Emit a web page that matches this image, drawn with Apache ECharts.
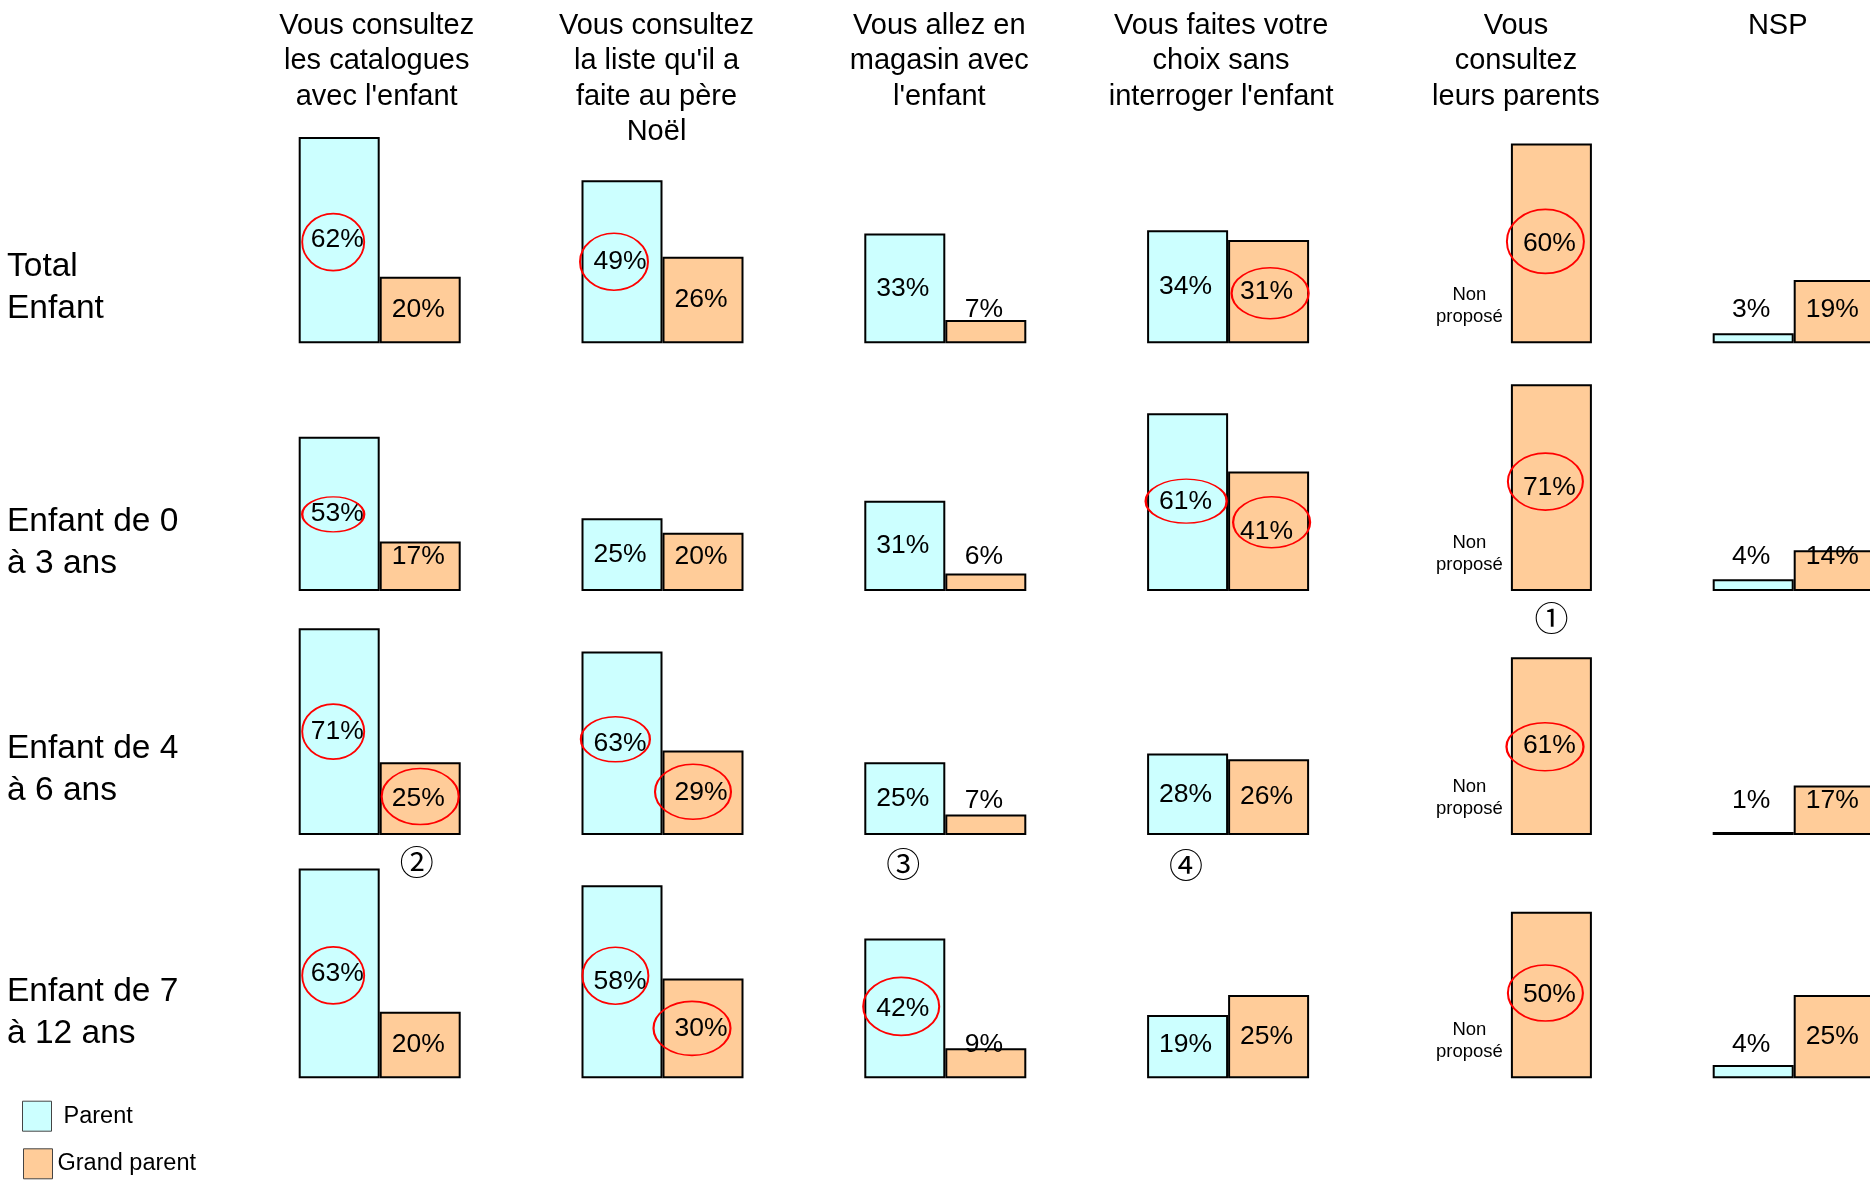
<!DOCTYPE html>
<html><head><meta charset="utf-8">
<script src="https://cdn.jsdelivr.net/npm/echarts@6/dist/echarts.min.js"></script>
<style>html,body{margin:0;padding:0;background:#fff}#c{width:1870px;height:1183px}</style>
</head><body><div id="c"></div>
<script>
// ---------- data ----------
const columnTitles = [
  "Vous consultez\nles catalogues\navec l'enfant",
  "Vous consultez\nla liste qu'il a\nfaite au père\nNoël",
  "Vous allez en\nmagasin avec\nl'enfant",
  "Vous faites votre\nchoix sans\ninterroger l'enfant",
  "Vous\nconsultez\nleurs parents",
  "NSP"
];
const rowLabels = ["Total\nEnfant", "Enfant de 0\nà 3 ans", "Enfant de 4\nà 6 ans", "Enfant de 7\nà 12 ans"];
const seriesNames = ["Parent", "Grand parent"];
const parentTotal  = [62, 49, 33, 34, null, 3];
const grandTotal   = [20, 26, 7, 31, 60, 19];
const parent0to3   = [53, 25, 31, 61, null, 4];
const grand0to3    = [17, 20, 6, 41, 71, 14];
const parent4to6   = [71, 63, 25, 28, null, 1];
const grand4to6    = [25, 29, 7, 26, 61, 17];
const parent7to12  = [63, 58, 42, 19, null, 4];
const grand7to12   = [20, 30, 9, 25, 50, 25];
const notProposedText = "Non\nproposé";
// highlighted values (red ellipses): row, column, series index
const highlighted = [
  [0,0,0],[0,1,0],[0,3,1],[0,4,1],
  [1,0,0],[1,3,0],[1,3,1],[1,4,1],
  [2,0,0],[2,0,1],[2,1,0],[2,1,1],[2,4,1],
  [3,0,0],[3,1,0],[3,1,1],[3,2,0],[3,4,1]
];
// footnote marks: row, column, series index, text
const footnotes = [[1,4,1,"①"],[2,0,1,"②"],[2,2,0,"③"],[2,3,0,"④"]];

// ---------- layout / style (kept separate from data) ----------
const FONT = '"Liberation Sans", Arial, sans-serif';
const colors = ["#CCFFFF", "#FFCC99"];
const gridLeft = 238.3, catW = 282.8, gridH = 233, barW = 81;
const baselines = [343.3, 591, 835, 1078.3];
const labelMinPx = 34;
const titleShift = [-3, -6, -6, -7, 5, -16];
const rowLabelTops = [246, 501, 727.5, 971];
// ellipse sizes and offsets, same order as `highlighted`: [w, h, dx, dy]
const ellipseGeom = [
  [62,57,-6,2],[68,57,-8,0],[77,51,1.5,1.5],[77,64,-6,-2],
  [62,35,-6,0.5],[81,44,-1.4,-1],[77,51,3,-9],[75,57,-6,-6],
  [62,55,-6,0],[77,56,0,-2],[69,45,-6.6,-4],[76,55,-10,-1],[77,48,-6.4,0.5],
  [62,57,-6,2],[66,57,-6.6,-6],[77,54,-11,0],[76,58,-3.6,-2],[75,56,-6,-2]
];
const footnoteOffset = [[0,27],[-3.5,27],[-1.5,29],[-1.5,30]];

const rowParents = [parentTotal, parent0to3, parent4to6, parent7to12];
const rowGrands  = [grandTotal, grand0to3, grand4to6, grand7to12];

const grids = [], xAxes = [], yAxes = [], series = [], graphics = [];

columnTitles.forEach((t, i) => {
  graphics.push({type:'text', x: gridLeft + (i + 0.5) * catW + titleShift[i], y: 8.5,
    style:{text:t, fill:'#000', fontSize:29, fontFamily:FONT, lineHeight:35.3,
      align:'center', textAlign:'center', verticalAlign:'top', textVerticalAlign:'top'}});
});
rowLabels.forEach((t, r) => {
  graphics.push({type:'text', x: 7, y: rowLabelTops[r],
    style:{text:t, fill:'#000', fontSize:33.5, fontFamily:FONT, lineHeight:42,
      align:'left', textAlign:'left', verticalAlign:'top', textVerticalAlign:'top'}});
});

for (let r = 0; r < 4; r++) {
  const rowVals = rowParents[r].concat(rowGrands[r]).filter(v => v != null);
  const rowMax = Math.ceil(Math.max.apply(null, rowVals) / 10) * 10;
  const scale = gridH / rowMax;
  grids.push({left: gridLeft, top: baselines[r] - gridH, width: catW * 6, height: gridH,
    outerBoundsMode: 'none', containLabel: false});
  xAxes.push({gridIndex: r, type: 'category', data: columnTitles, show: false});
  yAxes.push({gridIndex: r, type: 'value', min: 0, max: rowMax, show: false});

  [rowParents[r], rowGrands[r]].forEach((vals, s) => {
    const labelCenterPx = v => Math.max(v * scale / 2, labelMinPx);
    const data = vals.map(v => {
      if (v == null) return '-';
      const h = v * scale;
      return {value: v, label: {position: ['50%', h - labelCenterPx(v)]}};
    });
    const mp = [];
    highlighted.forEach((hl, k) => {
      if (hl[0] !== r || hl[2] !== s) return;
      const v = vals[hl[1]];
      const g = ellipseGeom[k];
      mp.push({coord: [columnTitles[hl[1]], labelCenterPx(v) / scale],
        symbol: 'circle', symbolSize: [g[0], g[1]], symbolOffset: [g[2], g[3]],
        itemStyle: {color: 'rgba(0,0,0,0)', borderColor: '#FF0000', borderWidth: 1.8},
        label: {show: false}});
    });
    footnotes.forEach((fn, k) => {
      if (fn[0] !== r || fn[2] !== s) return;
      mp.push({coord: [columnTitles[fn[1]], 0], symbol: 'circle', symbolSize: 1,
        itemStyle: {color: 'rgba(0,0,0,0)'},
        label: {show: true, formatter: fn[3], position: 'inside', offset: footnoteOffset[k],
          fontSize: 34, fontFamily: '"Noto Sans CJK JP", "DejaVu Sans"', color: '#000'}});
    });
    if (s === 0) {
      vals.forEach((v, i) => {
        if (v != null) return;
        mp.push({coord: [columnTitles[i], 0], symbol: 'circle', symbolSize: 1,
          itemStyle: {color: 'rgba(0,0,0,0)'},
          label: {show: true, formatter: notProposedText, position: 'inside', offset: [-1, -37],
            fontSize: 18.5, lineHeight: 22, fontFamily: FONT, color: '#000', align: 'center'}});
      });
    }
    series.push({
      type: 'bar', name: seriesNames[s], xAxisIndex: r, yAxisIndex: r,
      barWidth: barW, barGap: '0%', data: data,
      itemStyle: {color: colors[s], borderColor: '#000', borderWidth: 2},
      label: {show: true, formatter: '{c}%', align: 'center', verticalAlign: 'middle',
        offset: [-2, 0], fontSize: 26.5, fontFamily: FONT, color: '#000'},
      emphasis: {disabled: true},
      markPoint: {silent: true, animation: false, data: mp},
      animation: false
    });
  });
}

const legendCommon = {orient: 'vertical', padding: 0, itemWidth: 29, itemHeight: 30, icon: 'rect',
  selectedMode: false, itemStyle: {borderWidth: 1, borderColor: '#444'}};
const chart = echarts.init(document.getElementById('c'), null, {renderer: 'canvas'});
chart.setOption({
  animation: false,
  backgroundColor: '#fff',
  grid: grids, xAxis: xAxes, yAxis: yAxes, series: series,
  graphic: graphics,
  legend: [
    Object.assign({}, legendCommon, {data: [seriesNames[0]], left: 22, top: 1100.7,
      textStyle: {fontSize: 23.5, fontFamily: FONT, color: '#000', padding: [0, 0, 0, 7]}}),
    Object.assign({}, legendCommon, {data: [seriesNames[1]], left: 23, top: 1148.3,
      textStyle: {fontSize: 23.5, fontFamily: FONT, color: '#000'}})
  ]
});
</script></body></html>
